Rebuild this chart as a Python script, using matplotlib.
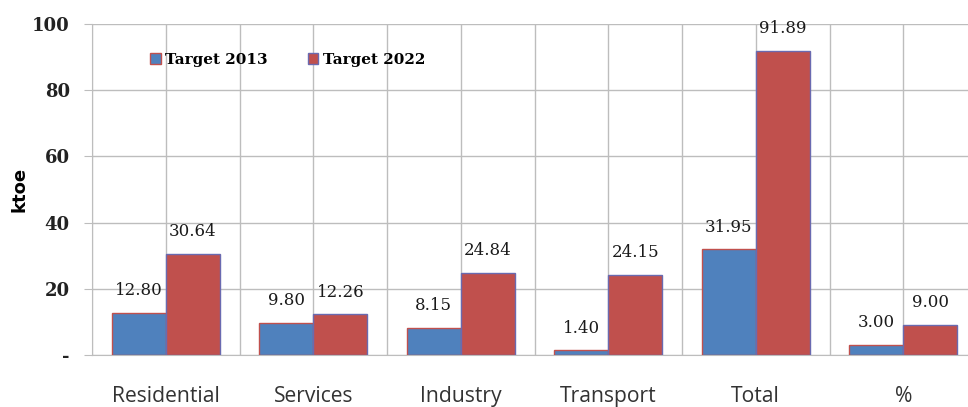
import numpy as np
import matplotlib.pyplot as plt

categories = ["Residential", "Services", "Industry", "Transport", "Total", "%"]
target_2013 = [12.80, 9.80, 8.15, 1.40, 31.95, 3.00]
target_2022 = [30.64, 12.26, 24.84, 24.15, 91.89, 9.00]
y_ticks = [0, 20, 40, 60, 80, 100]
y_tick_labels = ["-", "20", "40", "60", "80", "100"]

blue = "#4F81BD"
red = "#C0504D"
grid_col = "#BDBDBD"

fig = plt.figure(figsize=(9.68, 4.07), dpi=100)
ax = fig.add_axes([92 / 968, 52 / 407, 885 / 968, 331 / 407])

x = np.arange(len(categories))
w = 0.367
b1 = ax.bar(x - w, target_2013, width=w, align="edge", color=blue,
            edgecolor=red, linewidth=1, label="Target 2013", zorder=3)
b2 = ax.bar(x, target_2022, width=w, align="edge", color=red,
            edgecolor="#6A6AB0", linewidth=1, label="Target 2022", zorder=3)

for bars, vals in [(b1, target_2013), (b2, target_2022)]:
    for rect, v in zip(bars, vals):
        ax.annotate(f"{v:.2f}", (rect.get_x() + rect.get_width() / 2, v),
                    xytext=(0, 16), textcoords="offset points",
                    ha="center", va="center", fontsize=12,
                    family="DejaVu Serif", color="#1a1a1a", zorder=4)

ax.set_xlim(-0.5, 5.5)
ax.set_ylim(0, 100)
ax.set_yticks(y_ticks)
ax.set_yticklabels(y_tick_labels, family="DejaVu Serif", fontweight="bold",
                   fontsize=13, color="#222222")
ax.set_xticks(x)
ax.set_xticklabels(categories, fontsize=15.2, family="Open Sans", color="#333333")
ax.set_xticks(np.arange(-0.5, 6, 1), minor=True)
ax.tick_params(axis="x", which="both", length=0, pad=22)
ax.tick_params(axis="y", length=6, color=grid_col, pad=10)

ax.grid(True, which="both", axis="x", color=grid_col, linewidth=1, zorder=0)
ax.grid(True, which="major", axis="y", color=grid_col, linewidth=1, zorder=0)
ax.set_axisbelow(True)

for s in ["top", "right"]:
    ax.spines[s].set_visible(False)
ax.spines["left"].set_color(grid_col)
ax.spines["bottom"].set_color(grid_col)

ax.set_ylabel("ktoe", fontsize=13, fontweight="bold")
ax.yaxis.set_label_coords(-0.072, 0.5)

leg = ax.legend(loc="upper left", bbox_to_anchor=(0.05, 0.955), ncol=2,
                frameon=False, handlelength=0.7, handleheight=0.7,
                handletextpad=0.3, columnspacing=2.6,
                prop={"family": "DejaVu Serif", "weight": "bold", "size": 11})

fig.savefig("out.png", dpi=100)
